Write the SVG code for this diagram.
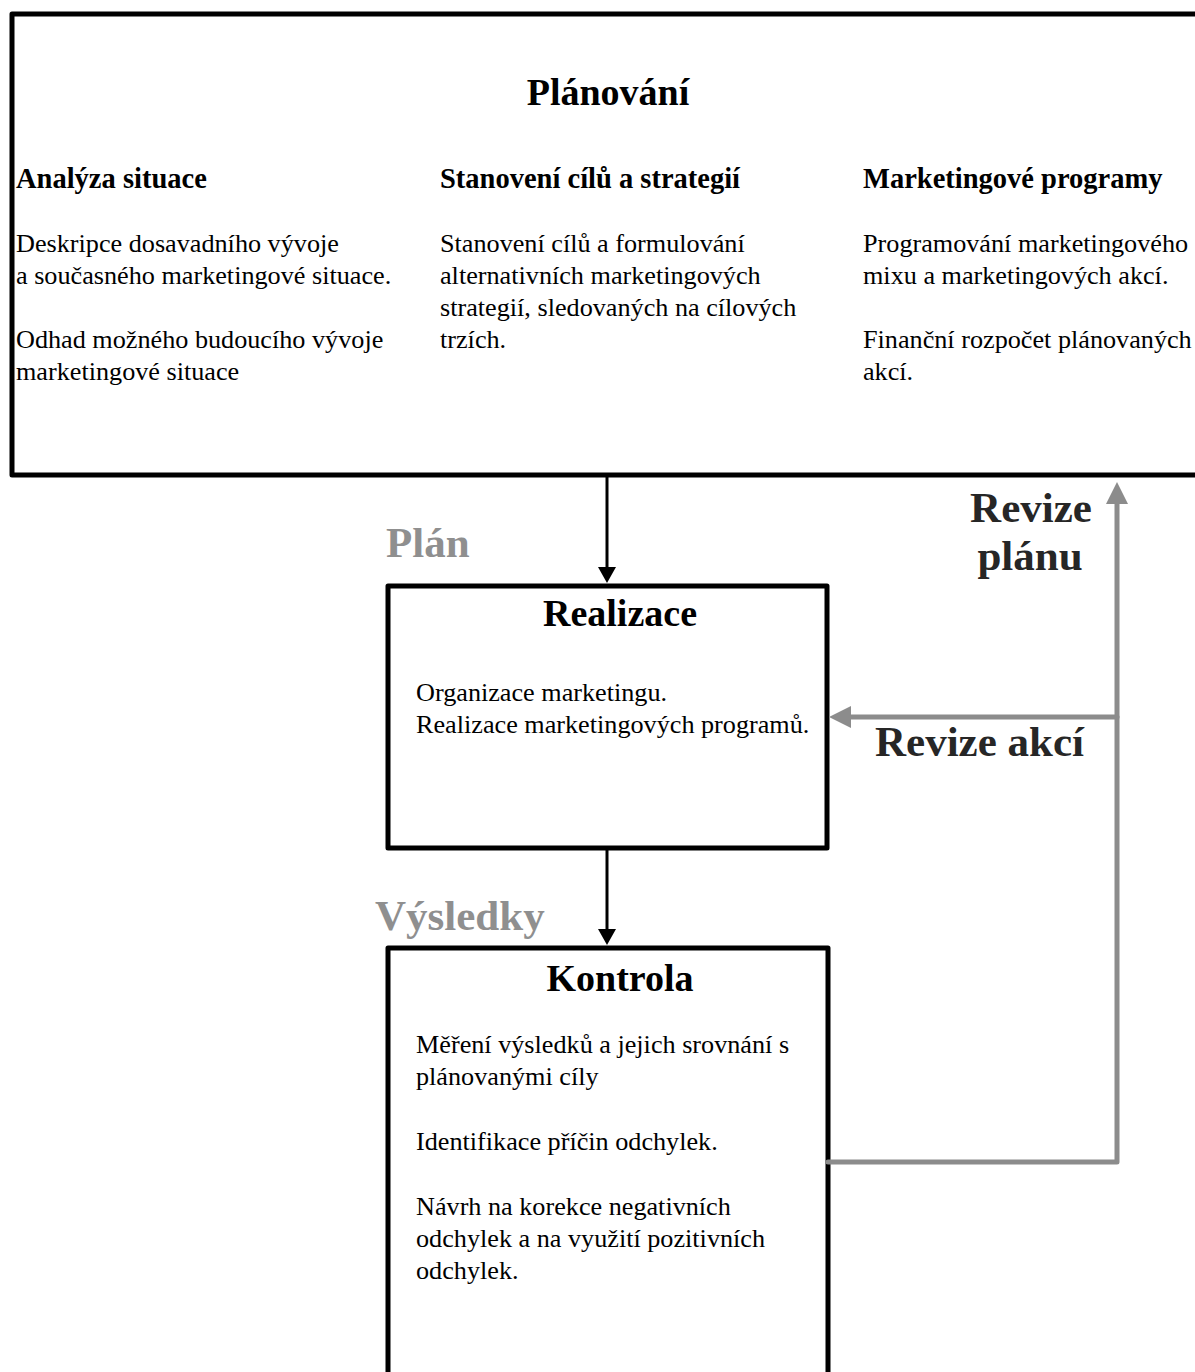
<svg xmlns="http://www.w3.org/2000/svg" width="1195" height="1372" viewBox="0 0 1195 1372">
<style>
.box{fill:#fff;stroke:#000;stroke-width:5;stroke-linejoin:round}
.t{font-family:"Liberation Serif","Times New Roman",serif;fill:#000}
.title{font-size:38px;font-weight:bold;text-anchor:middle}
.head{font-size:28.5px;font-weight:bold}
.body{font-size:26.2px}
.lbl{font-size:43px;font-weight:bold}
.gray{fill:#8f8f8f}
.dark{fill:#262626}
.conn{fill:none;stroke:#000;stroke-width:3}
.gconn{fill:none;stroke:#8c8c8c;stroke-width:5;stroke-linejoin:round;stroke-linecap:round}
</style>
<rect width="1195" height="1372" fill="#fff"/>
<g id="planovani">
<rect class="box" x="12" y="14" width="1200" height="461"/>
<text class="t title" x="608" y="105">Plánování</text>
<text class="t head" x="16" y="188">Analýza situace</text>
<text class="t head" x="440" y="188">Stanovení cílů a strategií</text>
<text class="t head" x="863" y="188">Marketingové programy</text>
<text class="t body" x="16" y="252">Deskripce dosavadního vývoje</text>
<text class="t body" x="16" y="284">a současného marketingové situace.</text>
<text class="t body" x="16" y="348">Odhad možného budoucího vývoje</text>
<text class="t body" x="16" y="380">marketingové situace</text>
<text class="t body" x="440" y="252">Stanovení cílů a formulování</text>
<text class="t body" x="440" y="284">alternativních marketingových</text>
<text class="t body" x="440" y="316">strategií, sledovaných na cílových</text>
<text class="t body" x="440" y="348">trzích.</text>
<text class="t body" x="863" y="252">Programování marketingového</text>
<text class="t body" x="863" y="284">mixu a marketingových akcí.</text>
<text class="t body" x="863" y="348">Finanční rozpočet plánovaných</text>
<text class="t body" x="863" y="380">akcí.</text>
</g>
<g id="realizace">
<rect class="box" x="388" y="586" width="439" height="262"/>
<text class="t title" x="620" y="626">Realizace</text>
<text class="t body" x="416" y="701">Organizace marketingu.</text>
<text class="t body" x="416" y="733">Realizace marketingových programů.</text>
</g>
<g id="kontrola">
<rect class="box" x="388" y="948" width="440" height="500"/>
<text class="t title" x="620" y="991">Kontrola</text>
<text class="t body" x="416" y="1053">Měření výsledků a jejich srovnání s</text>
<text class="t body" x="416" y="1085">plánovanými cíly</text>
<text class="t body" x="416" y="1150">Identifikace příčin odchylek.</text>
<text class="t body" x="416" y="1215">Návrh na korekce negativních</text>
<text class="t body" x="416" y="1247">odchylek a na využití pozitivních</text>
<text class="t body" x="416" y="1279">odchylek.</text>
</g>
<g id="connectors">
<line class="conn" x1="607" y1="477" x2="607" y2="568"/>
<polygon points="607,583 598,567 616,567" fill="#000"/>
<line class="conn" x1="607" y1="850" x2="607" y2="930"/>
<polygon points="607,945 598,929 616,929" fill="#000"/>
<path class="gconn" d="M828 1162 H1117 V502"/>
<polygon points="1117,482 1106,504 1128,504" fill="#8c8c8c"/>
<path class="gconn" d="M1117 717 H849"/>
<polygon points="829,717 851,706 851,728" fill="#8c8c8c"/>
<text class="t lbl gray" x="386" y="557">Plán</text>
<text class="t lbl gray" x="375" y="930">Výsledky</text>
<text class="t lbl dark" x="1031" y="522" text-anchor="middle">Revize</text>
<text class="t lbl dark" x="1030" y="570" text-anchor="middle">plánu</text>
<text class="t lbl dark" x="875" y="756">Revize akcí</text>
</g>
</svg>
